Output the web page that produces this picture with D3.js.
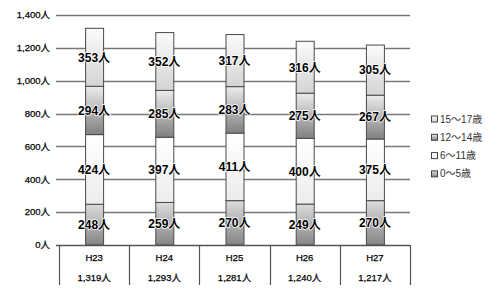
<!DOCTYPE html>
<html lang="ja">
<head>
<meta charset="utf-8">
<title>児童数の推移</title>
<script src="https://cdn.jsdelivr.net/npm/d3@7"></script>
<style>
  body { margin: 0; background: #fff; }
  svg { display: block; font-family: "Liberation Sans", "Noto Sans CJK JP", sans-serif; }
</style>
</head>
<body>
<div id="chart"></div>
<script>
// data
var years = ["H23", "H24", "H25", "H26", "H27"];
var seriesNames = ["0〜5歳", "6〜11歳", "12〜14歳", "15〜17歳"];
var age0to5 = [248, 259, 270, 249, 270];
var age6to11 = [424, 397, 411, 400, 375];
var age12to14 = [294, 285, 283, 275, 267];
var age15to17 = [353, 352, 317, 316, 305];
var yTicks = [0, 200, 400, 600, 800, 1000, 1200, 1400];

var W = 500, H = 298;

var rows = years.map(function(y, i) {
  return {year: y, "0〜5歳": age0to5[i], "6〜11歳": age6to11[i],
          "12〜14歳": age12to14[i], "15〜17歳": age15to17[i]};
});

var svg = d3.select("#chart").append("svg")
  .attr("width", W).attr("height", H);

var x = d3.scaleBand().domain(years).range([59, 410]).paddingInner(0).paddingOuter(0);
var y = d3.scaleLinear().domain([0, 1400]).range([245, 15]);
var nf = d3.format(",");

// gradients per series
var grads = {
  "0〜5歳": ["#dcdcdc", "#858585"],
  "6〜11歳": ["#ffffff", "#ececec"],
  "12〜14歳": ["#ececec", "#808080"],
  "15〜17歳": ["#fbfbfb", "#d4d4d4"]
};
var defs = svg.append("defs");
seriesNames.forEach(function(s, i) {
  var g = defs.append("linearGradient").attr("id", "g" + i)
    .attr("x1", 0).attr("y1", 0).attr("x2", 0).attr("y2", 1);
  g.append("stop").attr("offset", "0%").attr("stop-color", grads[s][0]);
  g.append("stop").attr("offset", "100%").attr("stop-color", grads[s][1]);
});

// gridlines
svg.append("g").selectAll("line").data(yTicks.slice(1)).enter().append("line")
  .attr("x1", 56).attr("x2", 410)
  .attr("y1", function(d) { return Math.round(y(d)) + 0.5; })
  .attr("y2", function(d) { return Math.round(y(d)) + 0.5; })
  .attr("stroke", "#777").attr("stroke-width", 1.4);

// y labels
svg.append("g").selectAll("text").data(yTicks).enter().append("text")
  .attr("x", 50).attr("y", function(d) { return y(d); })
  .attr("dy", "0.35em").attr("text-anchor", "end")
  .attr("font-size", 9.5).attr("fill", "#000")
  .attr("stroke", "#000").attr("stroke-width", 0.25)
  .text(function(d) { return nf(d) + "人"; });

// stacked bars
var stack = d3.stack().keys(seriesNames)(rows);
var bw = 18;
var layers = svg.append("g").selectAll("g").data(stack).enter().append("g")
  .attr("fill", function(d, i) { return "url(#g" + i + ")"; });

layers.selectAll("rect").data(function(d) { return d; }).enter().append("rect")
  .attr("x", function(d) { return x(d.data.year) + x.bandwidth() / 2 - bw / 2 + 0.5; })
  .attr("y", function(d) { return y(d[1]); })
  .attr("width", bw)
  .attr("height", function(d) { return y(d[0]) - y(d[1]); })
  .attr("stroke", "#4a4a4a").attr("stroke-width", 1);

// value labels
layers.selectAll("text").data(function(d) { return d; }).enter().append("text")
  .attr("x", function(d) { return x(d.data.year) + x.bandwidth() / 2; })
  .attr("y", function(d) { return (y(d[0]) + y(d[1])) / 2; })
  .attr("dy", "0.36em").attr("text-anchor", "middle")
  .attr("font-size", 12).attr("font-weight", "bold").attr("fill", "#000")
  .attr("stroke", "#fff").attr("stroke-width", 1.5).attr("paint-order", "stroke")
  .text(function(d) { return (d[1] - d[0]) + "人"; });

// axis line at 0
svg.append("line").attr("x1", 56).attr("x2", 410)
  .attr("y1", y(0) + 0.5).attr("y2", y(0) + 0.5)
  .attr("stroke", "#555").attr("stroke-width", 1.4);

// category table below
var seps = years.map(function(d) { return x(d); }).concat([x.range()[1]]);
svg.append("g").selectAll("line").data(seps).enter().append("line")
  .attr("x1", function(d) { return Math.round(d) + 0.5; })
  .attr("x2", function(d) { return Math.round(d) + 0.5; })
  .attr("y1", y(0)).attr("y2", 285)
  .attr("stroke", "#555").attr("stroke-width", 1.2);

var cats = svg.append("g").selectAll("g").data(rows).enter().append("g");
cats.append("text")
  .attr("x", function(d) { return x(d.year) + x.bandwidth() / 2; })
  .attr("y", 258).attr("dy", "0.35em").attr("text-anchor", "middle")
  .attr("font-size", 9.5).attr("fill", "#000")
  .attr("stroke", "#000").attr("stroke-width", 0.25)
  .text(function(d) { return d.year; });
cats.append("text")
  .attr("x", function(d) { return x(d.year) + x.bandwidth() / 2; })
  .attr("y", 278).attr("dy", "0.35em").attr("text-anchor", "middle")
  .attr("font-size", 9.5).attr("fill", "#000")
  .attr("stroke", "#000").attr("stroke-width", 0.25)
  .text(function(d) {
    var t = 0; seriesNames.forEach(function(s) { t += d[s]; });
    return nf(t) + "人";
  });

// legend (reverse order)
var legendItems = seriesNames.slice().reverse();
var lg = svg.append("g").selectAll("g").data(legendItems).enter().append("g")
  .attr("transform", function(d, i) { return "translate(431," + (119 + i * 18.3) + ")"; });
lg.append("rect").attr("x", 0.5).attr("y", -3).attr("width", 6).attr("height", 6)
  .attr("fill", function(d) { return "url(#g" + seriesNames.indexOf(d) + ")"; })
  .attr("stroke", "#444").attr("stroke-width", 1);
lg.append("text").attr("x", 9).attr("dy", "0.35em")
  .attr("font-size", 10).attr("fill", "#333")
  .text(function(d) { return d; });
</script>
</body>
</html>
